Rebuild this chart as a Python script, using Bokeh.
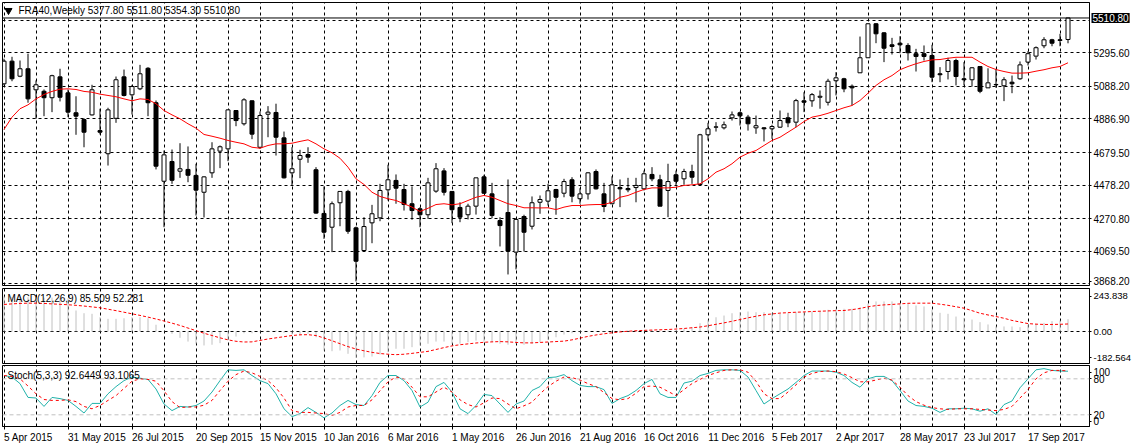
from bokeh.plotting import figure
from bokeh.layouts import column
from bokeh.models import (Range1d, FixedTicker, Label, ColumnDataSource, Span, Grid,
                          NumeralTickFormatter, PrintfTickFormatter)
from bokeh.embed import file_html
from bokeh.resources import INLINE

symbol = "FRA40,Weekly"

x_tick_labels = ["5 Apr 2015", "31 May 2015", "26 Jul 2015", "20 Sep 2015", "15 Nov 2015",
                 "10 Jan 2016", "6 Mar 2016", "1 May 2016", "26 Jun 2016", "21 Aug 2016",
                 "16 Oct 2016", "11 Dec 2016", "5 Feb 2017", "2 Apr 2017", "28 May 2017",
                 "23 Jul 2017", "17 Sep 2017"]

opens = [5104, 5244, 5151, 5197, 5067, 5058, 5018, 5147, 5048, 4925,
         4883, 4912, 4815, 4672, 4891, 5147, 5036, 5073, 5200, 4987,
         4502, 4624, 4564, 4575, 4538, 4434, 4554, 4688, 4702, 4939,
         4857, 4999, 4712, 4916, 4927, 4770, 4554, 4638, 4667, 4573,
         4303, 4218, 4369, 4439, 4214, 4074, 4245, 4276, 4449, 4507,
         4451, 4363, 4332, 4295, 4441, 4566, 4439, 4340, 4295, 4348,
         4529, 4424, 4259, 4309, 4064, 4284, 4224, 4372, 4379, 4451,
         4428, 4511, 4394, 4424, 4562, 4424, 4363, 4463, 4457, 4463,
         4455, 4544, 4511, 4445, 4542, 4517, 4562, 4482, 4789, 4836,
         4832, 4894, 4925, 4898, 4832, 4832, 4826, 4836, 4894, 4867,
         4999, 4999, 5021, 4990, 5123, 5135, 5089, 5172, 5265, 5475,
         5419, 5345, 5355, 5341, 5290, 5290, 5279, 5166, 5180, 5248,
         5135, 5129, 5211, 5079, 5100, 5092, 5114, 5135, 5238, 5275,
         5339, 5376, 5376, 5377.8]

highs = [5259, 5271, 5248, 5290, 5125, 5069, 5160, 5197, 5069, 5027,
         4891, 5098, 4950, 4956, 5149, 5192, 5098, 5221, 5207, 5001,
         4692, 4698, 4737, 4717, 4610, 4533, 4743, 4723, 4945, 4939,
         5015, 5001, 4933, 4966, 4981, 4809, 4712, 4696, 4712, 4589,
         4470, 4377, 4439, 4449, 4222, 4280, 4356, 4486, 4604, 4544,
         4486, 4470, 4342, 4523, 4614, 4583, 4439, 4372, 4363, 4523,
         4542, 4492, 4280, 4513, 4274, 4295, 4408, 4414, 4486, 4455,
         4517, 4527, 4459, 4558, 4575, 4492, 4533, 4513, 4523, 4523,
         4568, 4589, 4542, 4610, 4568, 4579, 4604, 4795, 4863, 4867,
         4871, 4933, 4933, 4912, 4908, 4836, 4851, 4939, 4925, 5011,
         5052, 5047, 5063, 5135, 5176, 5141, 5100, 5396, 5479, 5479,
         5423, 5388, 5398, 5355, 5320, 5341, 5345, 5207, 5265, 5259,
         5238, 5207, 5211, 5200, 5197, 5145, 5155, 5242, 5306, 5335,
         5392, 5382, 5413, 5511.8]

lows = [5094, 5120, 5145, 4987, 4888, 4904, 4929, 4995, 4898, 4789,
        4712, 4908, 4791, 4599, 4863, 5026, 4914, 5065, 4904, 4575,
        4218, 4486, 4523, 4496, 4290, 4278, 4523, 4583, 4626, 4842,
        4846, 4762, 4702, 4774, 4661, 4519, 4476, 4521, 4616, 4301,
        4146, 4064, 4224, 4177, 3883, 4068, 4119, 4255, 4383, 4363,
        4321, 4264, 4218, 4270, 4431, 4414, 4243, 4249, 4266, 4296,
        4424, 4274, 4099, 3926, 3957, 4068, 4204, 4301, 4352, 4295,
        4403, 4372, 4363, 4389, 4451, 4311, 4363, 4342, 4434, 4372,
        4445, 4502, 4348, 4280, 4476, 4480, 4486, 4476, 4754, 4809,
        4822, 4877, 4846, 4815, 4795, 4748, 4764, 4832, 4836, 4836,
        4929, 4962, 4950, 4970, 5032, 5052, 4970, 5172, 5265, 5355,
        5238, 5285, 5293, 5248, 5180, 5248, 5114, 5114, 5131, 5094,
        5094, 5087, 5046, 5079, 5079, 4997, 5046, 5129, 5217, 5254,
        5324, 5336, 5336, 5354.3]

closes = [5244, 5135, 5197, 5011, 5098, 5018, 5154, 5021, 4929, 4904,
          4805, 5067, 4805, 4943, 5129, 5032, 5087, 5166, 4987, 4595,
          4665, 4508, 4579, 4539, 4447, 4529, 4702, 4715, 4943, 4877,
          5005, 4793, 4908, 4929, 4774, 4523, 4579, 4661, 4651, 4305,
          4187, 4363, 4439, 4193, 4008, 4222, 4301, 4445, 4511, 4459,
          4358, 4321, 4295, 4492, 4579, 4434, 4326, 4280, 4348, 4523,
          4428, 4290, 4228, 4070, 4266, 4187, 4369, 4389, 4443, 4403,
          4500, 4410, 4424, 4554, 4455, 4346, 4480, 4455, 4449, 4476,
          4548, 4517, 4348, 4500, 4502, 4562, 4527, 4789, 4826, 4838,
          4851, 4912, 4906, 4857, 4845, 4826, 4840, 4877, 4863, 5000,
          4990, 5037, 5027, 5120, 5141, 5073, 5079, 5265, 5475, 5413,
          5324, 5335, 5345, 5296, 5273, 5273, 5145, 5160, 5248, 5149,
          5129, 5203, 5058, 5110, 5098, 5129, 5104, 5221, 5290, 5327,
          5376, 5355, 5372, 5510.8]

moving_avg = [4822, 4898, 4950, 4974, 5011, 5038, 5057, 5071, 5073, 5069,
              5057, 5052, 5040, 5032, 5024, 5011, 4999, 5011, 5007, 4981,
              4939, 4912, 4888, 4857, 4830, 4791, 4780, 4768, 4754, 4743,
              4733, 4712, 4706, 4723, 4733, 4733, 4737, 4748, 4758, 4733,
              4702, 4678, 4644, 4589, 4517, 4482, 4434, 4408, 4394, 4383,
              4363, 4342, 4315, 4335, 4358, 4363, 4356, 4363, 4383, 4403,
              4414, 4403, 4383, 4363, 4352, 4338, 4338, 4337, 4338, 4327,
              4342, 4352, 4352, 4356, 4358, 4358, 4372, 4403, 4414, 4434,
              4451, 4461, 4461, 4461, 4465, 4476, 4480, 4486, 4517, 4558,
              4579, 4610, 4651, 4675, 4692, 4723, 4754, 4774, 4805, 4836,
              4871, 4898, 4908, 4922, 4939, 4956, 4970, 5001, 5046, 5094,
              5129, 5155, 5191, 5211, 5228, 5242, 5252, 5254, 5262, 5268,
              5268, 5268, 5238, 5211, 5192, 5180, 5170, 5170, 5172, 5182,
              5191, 5203, 5211, 5234]

macd_hist = [243.838, 241, 240, 238, 236, 235, 236, 234, 230, 146,
             127, 123, 99, 88, 88, 92, 99, 99, 92, 47,
             2, -16, -44, -70, -85, -97, -92, -81, -58, -35,
             -12, -12, -5, 7, 7, -9, -21, -28, -16, -40,
             -132, -137, -132, -155, -182.564, -180, -174, -160, -144, -120,
             -120, -109, -97, -85, -70, -70, -85, -85, -74, -63,
             -70, -74, -85, -92, -85, -92, -85, -74, -58, -40,
             -21, -12, -5, 1, 3, -5, 2, 7, 7, 9,
             7, 9, 7, 7, 9, 19, 30, 58, 81, 99,
             111, 127, 134, 139, 134, 134, 127, 123, 127, 134,
             134, 139, 141, 151, 158, 158, 158, 169, 193, 209,
             209, 209, 193, 193, 181, 174, 151, 130, 123, 104,
             95, 83, 65, 49, 35, 35, 35, 30, 47, 54,
             60, 72, 76, 85.509]

macd_signal = [188, 192, 195, 197, 197, 195, 192, 189, 186, 182,
               177, 171, 165, 155, 145, 134, 123, 112, 100, 87,
               73, 58, 42, 24, 6, -12, -28, -44, -58, -68,
               -73, -72, -62, -52, -44, -36, -28, -23, -22, -28,
               -45, -64, -85, -105, -122, -134, -145, -153, -158, -161,
               -158, -152, -145, -138, -125, -112, -100, -92, -86, -80,
               -75, -72, -70, -72, -76, -79, -79, -76, -73, -70,
               -67, -58, -46, -34, -24, -16, -9, -3, 2, 5,
               8, 10, 12, 14, 17, 21, 26, 31, 40, 50,
               60, 71, 83, 95, 106, 116, 122, 128, 131, 134,
               136, 139, 141, 143, 145, 146, 152, 160, 172, 180,
               185, 188, 192, 196, 197, 197, 197, 190, 182, 172,
               162, 145, 127, 115, 104, 92, 77, 66, 55, 51,
               49, 49, 50, 52.281]

stoch_k = [85.5, 83, 72, 49, 48, 34, 49, 47, 44, 34,
           23, 39, 39, 55, 67, 77, 83, 81, 79, 63,
           38, 27, 34, 33, 35.5, 43, 58, 77, 95, 94,
           95, 85.5, 77, 72, 55, 30, 17, 22, 32, 24,
           15, 23, 35.5, 44, 37, 35.5, 52, 74, 85.5, 85.5,
           77, 60.5, 33, 41, 67, 74, 58, 30, 22, 35.5,
           54, 52, 38, 24, 38, 43, 60.5, 67, 82, 83,
           87, 77, 69, 67, 67, 62, 39, 47, 52, 60.5,
           72, 79, 55, 49, 49, 73, 76, 85.5, 89, 94,
           95, 95, 94, 83, 60.5, 38, 47, 55, 63, 74,
           85.5, 93, 93, 93, 91, 85.5, 74, 66, 80, 84,
           84, 77, 60.5, 43, 35.5, 34, 31, 24, 30, 30,
           31, 30, 26, 30, 20.5, 37, 43, 65, 80, 95,
           97, 94, 93, 92.6449]

stoch_d = [85.5, 84, 80, 68, 55, 45.5, 44, 44, 45, 42,
           34, 30, 35.5, 44, 52, 64, 76, 80, 79, 76,
           60, 42, 32, 33, 33, 36, 44, 60.5, 76, 87,
           93, 90, 84, 77, 65, 48, 27, 24, 24, 23,
           22, 19, 24, 33, 35.5, 35.5, 45, 60, 75, 83,
           80, 66, 50, 50, 58, 66, 58, 45, 37, 33,
           40, 48, 47, 38, 30, 35, 41, 55, 67, 76,
           83, 82, 78, 72, 67, 57, 47, 45, 47, 56,
           67, 68, 66, 59, 52, 62, 72, 79, 85.5, 90,
           94, 95, 95, 91, 76, 55, 47, 47, 58, 70,
           83, 89, 92, 93, 92, 88, 82, 75, 75, 78,
           81, 78, 66, 52, 42, 36, 32, 30, 29, 30,
           30, 30, 29, 28, 27, 29, 34, 48, 62, 80,
           90, 94, 94, 93.1065]

price_ticks = [3868.20, 4069.50, 4270.80, 4478.20, 4679.50, 4886.90, 5088.20, 5295.60]
price_top_grid = 5497.0
macd_ticks = [-182.564, 0.0, 243.838]
stoch_levels = [20, 80]

N = len(closes)
idx = list(range(N))

FONT = "Liberation Sans"
FS = "10px"
PX_PER_BAR = 8.0

xr = Range1d(-0.1875, 135.6875)
vgrid = list(range(0, N + 4, 4))

# approximate Arial/Liberation Sans advance widths (per 1000 em) for label centring
_W = {" ": 278, "A": 667, "p": 556, "r": 333, "M": 833, "a": 556, "y": 500, "J": 500,
      "u": 556, "l": 222, "S": 667, "e": 556, "N": 722, "o": 556, "v": 500, "n": 556,
      "F": 611, "b": 556, "D": 722, "c": 500, "O": 778, "t": 278, "g": 556}


def text_px(s, size=10.0):
    return sum(_W.get(ch, 556) for ch in s) * size / 1000.0


def panel(frame_h, y_range, top, bottom, x_axis):
    p = figure(frame_width=1087, frame_height=frame_h, x_range=xr, y_range=y_range,
               x_axis_location=("below" if x_axis else None), y_axis_location="right",
               output_backend="svg", toolbar_location=None,
               min_border_left=2, min_border_right=43, min_border_top=top,
               min_border_bottom=bottom)
    p.outline_line_color = "black"
    p.outline_line_width = 1
    p.background_fill_color = "white"
    p.border_fill_color = "white"
    for g in p.grid:
        g.visible = False
    p.add_layout(Grid(dimension=0, ticker=FixedTicker(ticks=vgrid),
                      grid_line_color="black", grid_line_dash="3 3", grid_line_width=1))
    for ax in p.axis:
        ax.major_tick_out = 2
        ax.major_tick_in = 0
        ax.minor_tick_out = 0
        ax.minor_tick_in = 0
        ax.axis_line_color = "black"
        ax.major_tick_line_color = "black"
        ax.major_label_text_font = FONT
        ax.major_label_text_font_size = FS
        ax.major_label_text_color = "black"
        ax.major_label_standoff = 2
    return p


# ---------------- main price panel ----------------
p1 = panel(283, Range1d(3857.8, 5606.4), 2, 2, False)
p1.add_layout(Grid(dimension=1, ticker=FixedTicker(ticks=price_ticks + [price_top_grid]),
                   grid_line_color="black", grid_line_dash="3 3", grid_line_width=1))
# lowest label is lifted a little so that it stays inside the panel, as in the terminal
axis_ticks = [3884] + price_ticks[1:]
p1.yaxis.ticker = FixedTicker(ticks=axis_ticks)
p1.yaxis.formatter = NumeralTickFormatter(format="0.00")
p1.yaxis.major_label_overrides = {3884: "%.2f" % price_ticks[0]}

src = ColumnDataSource(dict(
    x=idx, o=opens, h=highs, l=lows, c=closes,
    top=[max(a, b) for a, b in zip(opens, closes)],
    bottom=[min(a, b) for a, b in zip(opens, closes)],
    fill=["white" if c >= o else "black" for o, c in zip(opens, closes)],
))
p1.segment(x0="x", y0="l", x1="x", y1="h", source=src, line_color="black", line_width=1)
p1.vbar(x="x", width=0.5, top="top", bottom="bottom", source=src,
        fill_color="fill", line_color="black", line_width=1)
p1.line(idx, moving_avg, line_color="#ff0000", line_width=1)
p1.add_layout(Span(location=closes[-1], dimension="width", line_color="black", line_width=1))

p1.scatter([0.5625], [5557], marker="inverted_triangle", size=7, fill_color="black",
           line_color="black")
p1.add_layout(Label(x=1.8125, y=5557, text="%s  %.2f %.2f %.2f %.2f" % (
    symbol, opens[-1], highs[-1], lows[-1], closes[-1]),
    text_font=FONT, text_font_size=FS, text_color="black", text_baseline="middle",
    text_align="left"))
# current-price tag in the price scale (placed in the right side panel so it is not clipped)
p1.add_layout(Label(x=xr.end, y=closes[-1], x_offset=2, text="%.2f" % closes[-1],
                    text_font=FONT, text_font_size=FS, text_color="white",
                    background_fill_color="black", background_fill_alpha=1.0,
                    text_baseline="middle", text_align="left", padding=1), "right")

# ---------------- MACD panel ----------------
p2 = panel(75, Range1d(-222.4, 298.9), 1, 1, False)
p2.add_layout(Grid(dimension=1, ticker=FixedTicker(ticks=[0]),
                   grid_line_color="black", grid_line_dash="3 3", grid_line_width=1))
p2.yaxis.ticker = FixedTicker(ticks=macd_ticks)
p2.yaxis.formatter = PrintfTickFormatter(format="%.3f")
p2.yaxis.major_label_overrides = {0: "0.00"}
p2.yaxis.major_label_text_font_size = "9.5px"
p2.segment(x0=idx, y0=[0] * N, x1=idx, y1=macd_hist, line_color="#c0c0c0", line_width=1)
p2.line(idx, macd_signal, line_color="#ff0000", line_width=1, line_dash="3 2")
p2.add_layout(Label(x=0.4375, y=229, text="MACD(12,26,9) %.3f %.3f" % (macd_hist[-1], macd_signal[-1]),
                    text_font=FONT, text_font_size=FS, text_color="black",
                    text_baseline="middle", text_align="left"))

# ---------------- Stochastic panel ----------------
p3 = panel(61, Range1d(0.5, 102.2), 1, 22, True)
for lv in stoch_levels:
    p3.add_layout(Span(location=lv, dimension="width", line_color="#c0c0c0",
                       line_width=1, line_dash="4 3"))
p3.yaxis.ticker = FixedTicker(ticks=[9, 20, 80, 91])
p3.yaxis.formatter = PrintfTickFormatter(format="%d")
p3.yaxis.major_label_overrides = {9: "0", 91: "100"}
p3.line(idx, stoch_k, line_color="#20b2aa", line_width=1)
p3.line(idx, stoch_d, line_color="#ff0000", line_width=1, line_dash="3 3")
p3.add_layout(Label(x=0.4375, y=85.5, text="Stoch(5,3,3) %.4f %.4f" % (stoch_k[-1], stoch_d[-1]),
                    text_font=FONT, text_font_size=FS, text_color="black",
                    text_baseline="middle", text_align="left"))

# date labels start at their bar (left aligned), as in the terminal:
# the labels are centred by the axis, so each tick sits at the label's middle,
# and short tick marks are drawn at the label start as minor ticks.
starts = [8 * k for k in range(len(x_tick_labels))]
centres = [s + text_px(lbl) / 2.0 / PX_PER_BAR for s, lbl in zip(starts, x_tick_labels)]
p3.xaxis.ticker = FixedTicker(ticks=centres, minor_ticks=starts)
p3.xaxis.major_label_overrides = {c: lbl for c, lbl in zip(centres, x_tick_labels)}
p3.xaxis.major_tick_line_color = None
p3.xaxis.minor_tick_out = 3
p3.xaxis.minor_tick_line_color = "black"

layout = column(p1, p2, p3, spacing=0)
open("out.html", "w").write(file_html(layout, INLINE))
